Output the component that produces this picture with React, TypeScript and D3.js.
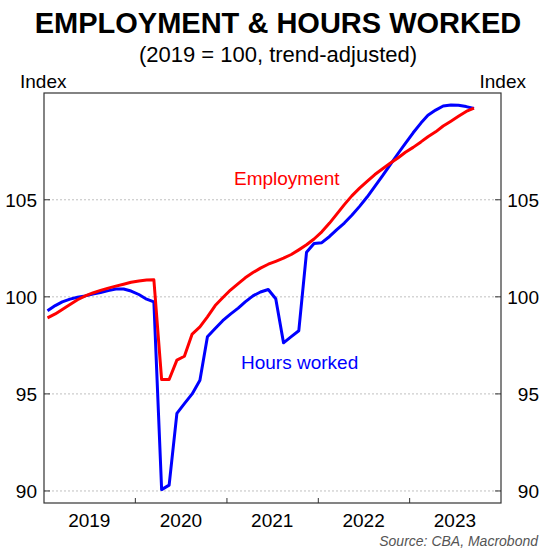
import React from "react";
import * as d3 from "d3";

const START_YEAR = 2019;
const START_MONTH = 0;
const employment = [
  98.92, 99.12, 99.35, 99.6, 99.85, 100.05, 100.2, 100.33, 100.45, 100.55, 100.65, 100.75,
  100.82, 100.87, 100.88, 95.74, 95.74, 96.74, 96.94, 98.08, 98.45, 98.97, 99.55, 99.95,
  100.35, 100.68, 100.98, 101.25, 101.48, 101.68, 101.83, 101.99, 102.18, 102.42, 102.68, 102.98,
  103.35, 103.8, 104.25, 104.75, 105.2, 105.6, 105.95, 106.3, 106.6, 106.88, 107.15, 107.45,
  107.7, 107.98, 108.25, 108.5, 108.8, 109.05, 109.3, 109.55, 109.72,
];
const hoursWorked = [
  99.28, 99.55, 99.74, 99.88, 99.98, 100.05, 100.15, 100.22, 100.32, 100.4, 100.4, 100.3,
  100.12, 99.88, 99.74, 90.07, 90.3, 94.0, 94.5, 95.0, 95.7, 97.94, 98.37, 98.77,
  99.11, 99.42, 99.74, 100.05, 100.25, 100.38, 99.9, 97.63, 97.95, 98.25, 102.3, 102.75,
  102.79, 103.11, 103.45, 103.8, 104.2, 104.66, 105.14, 105.69, 106.24, 106.8, 107.37, 107.9,
  108.45, 108.95, 109.35, 109.62, 109.83, 109.88, 109.87, 109.8, 109.7,
];
const yTicks = [90, 95, 100, 105];
const yearLabels = ["2019", "2020", "2021", "2022", "2023"];

const FONT = "'Liberation Sans', Arial, sans-serif";

export default function App() {
  const W = 557, H = 552;
  const left = 44, right = 501, top = 93, bottom = 503;
  const x = d3.scaleTime()
    .domain([new Date(2019, 0, 1), new Date(2024, 0, 1)])
    .range([left, right]);
  const y = d3.scaleLinear().domain([89.38, 110.5]).range([bottom, top]);
  const date = (i: number) => new Date(START_YEAR, START_MONTH + i, 15);
  const line = d3.line<number>()
    .x((_, i) => x(date(i)))
    .y((v) => y(v));
  const yearBoundaries = d3.range(2020, 2024).map((yy) => new Date(yy, 0, 1));

  return (
    <svg width={W} height={H} style={{ position: "absolute", left: 0, top: 0, background: "#fff" }}>
      <text x={278} y={33} textAnchor="middle" fontFamily={FONT} fontWeight="bold" fontSize={29}>
        EMPLOYMENT &amp; HOURS WORKED
      </text>
      <text x={278} y={62} textAnchor="middle" fontFamily={FONT} fontSize={22}>
        (2019 = 100, trend-adjusted)
      </text>
      <text x={20} y={88} fontFamily={FONT} fontSize={19}>Index</text>
      <text x={526} y={88} textAnchor="end" fontFamily={FONT} fontSize={19}>Index</text>

      {yTicks.map((t) => (
        <g key={t}>
          <line x1={left} x2={right} y1={y(t)} y2={y(t)} stroke="#c0c0c0" strokeWidth={1} strokeDasharray="2,2" />
          <line x1={left} x2={left + 6} y1={y(t)} y2={y(t)} stroke="#333" strokeWidth={1} />
          <line x1={right - 6} x2={right} y1={y(t)} y2={y(t)} stroke="#333" strokeWidth={1} />
          <text x={37} y={y(t) + 7} textAnchor="end" fontFamily={FONT} fontSize={19}>{t}</text>
          <text x={539} y={y(t) + 7} textAnchor="end" fontFamily={FONT} fontSize={19}>{t}</text>
        </g>
      ))}

      {yearBoundaries.map((d, i) => (
        <line key={i} x1={x(d)} x2={x(d)} y1={bottom} y2={bottom - 5} stroke="#333" strokeWidth={1} />
      ))}
      {yearLabels.map((lab) => (
        <text key={lab} x={x(new Date(+lab, 6, 1))} y={527} textAnchor="middle" fontFamily={FONT} fontSize={19}>
          {lab}
        </text>
      ))}

      <rect x={left} y={top} width={right - left} height={bottom - top} fill="none" stroke="#333" strokeWidth={1.2} />

      <path d={line(hoursWorked) || ""} fill="none" stroke="#0000ff" strokeWidth={3} strokeLinejoin="round" />
      <path d={line(employment) || ""} fill="none" stroke="#ff0000" strokeWidth={3} strokeLinejoin="round" />

      <text x={234} y={185} fontFamily={FONT} fontSize={19} fill="#ff0000">Employment</text>
      <text x={241} y={369} fontFamily={FONT} fontSize={19} fill="#0000ff">Hours worked</text>

      <text x={538} y={546} textAnchor="end" fontFamily={FONT} fontSize={14} fontStyle="italic" fill="#555">
        Source: CBA, Macrobond
      </text>
    </svg>
  );
}
